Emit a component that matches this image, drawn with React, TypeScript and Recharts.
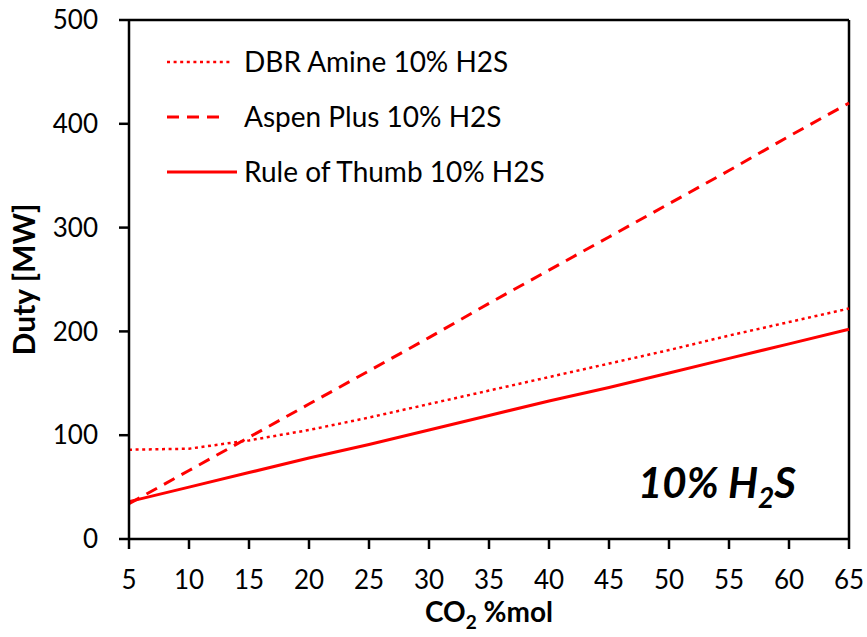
import { LineChart, Line, XAxis, YAxis, ReferenceLine } from 'recharts';

// ── Data ──────────────────────────────────────────────────────────────────────

const co2Pct = [5, 10, 15, 20, 25, 30, 35, 40, 45, 50, 55, 60, 65];
const dbrAmine = [86, 87, 95, 105, 117, 130, 143, 156, 169, 182, 196, 209, 222];
const aspenPlus = [34, 66, 98, 130, 162, 194, 227, 259, 291, 323, 355, 388, 420];
const ruleOfThumb = [36, 50, 64, 78, 91, 105, 119, 133, 146, 160, 174, 188, 202];
const xTicks = [5, 10, 15, 20, 25, 30, 35, 40, 45, 50, 55, 60, 65];
const yTicks = [0, 100, 200, 300, 400, 500];

const chartData = co2Pct.map((x, i) => ({
  x,
  dbr: dbrAmine[i],
  aspen: aspenPlus[i],
  rot: ruleOfThumb[i],
}));

const RED = '#ff0000';
const FONT = 'Lato, "Open Sans", sans-serif';

const legendRows = [
  { label: 'DBR Amine 10% H2S', dash: '3 3.6', len: 66, width: 2.5 },
  { label: 'Aspen Plus 10% H2S', dash: '12 8', len: 55, width: 3 },
  { label: 'Rule of Thumb 10% H2S', dash: undefined, len: 70, width: 3 },
];

// ── Axis labels ───────────────────────────────────────────────────────────────

// eslint-disable-next-line @typescript-eslint/no-explicit-any
function YTitle({ viewBox }: any) {
  const cx = 35;
  const cy = viewBox.y + viewBox.height / 2;
  return (
    <text x={cx} y={cy} transform={`rotate(-90 ${cx} ${cy})`} textAnchor="middle"
      fontFamily={FONT} fontWeight={700} fontSize={30} fill="#000">
      Duty [MW]
    </text>
  );
}

// eslint-disable-next-line @typescript-eslint/no-explicit-any
function XTitle({ viewBox }: any) {
  const cx = viewBox.x + viewBox.width / 2;
  return (
    <text x={cx} y={622} textAnchor="middle" fontFamily={FONT} fontWeight={700} fontSize={28} fill="#000">
      CO<tspan fontSize={19} dy={7}>2</tspan><tspan dy={-7}> %mol</tspan>
    </text>
  );
}

export default function App() {
  return (
    <div style={{ position: 'absolute', left: 0, top: 0, width: 867, height: 637, background: '#fff' }}>
      <LineChart
        width={867}
        height={637}
        data={chartData}
        margin={{ top: 20, right: 18, left: 0, bottom: 0 }}
      >
        <XAxis
          dataKey="x"
          type="number"
          domain={[5, 65]}
          ticks={xTicks}
          interval={0}
          height={98}
          tickSize={10}
          tickMargin={22}
          axisLine={{ stroke: '#000', strokeWidth: 2.5 }}
          tickLine={{ stroke: '#000', strokeWidth: 2.5 }}
          tick={{ fontSize: 26, fill: '#000', fontFamily: FONT }}
          label={<XTitle />}
        />
        <YAxis
          type="number"
          domain={[0, 500]}
          ticks={yTicks}
          interval={0}
          width={129}
          tickSize={10}
          tickMargin={21}
          axisLine={{ stroke: '#000', strokeWidth: 2.5 }}
          tickLine={{ stroke: '#000', strokeWidth: 2.5 }}
          tick={{ fontSize: 26, fill: '#000', fontFamily: FONT }}
          label={<YTitle />}
        />
        <ReferenceLine y={500} stroke="#000" strokeWidth={2.5} />
        <ReferenceLine x={65} stroke="#000" strokeWidth={2.5} />
        <Line dataKey="dbr" stroke={RED} strokeWidth={2.5} strokeDasharray="3 3.6"
          dot={false} isAnimationActive={false} />
        <Line dataKey="aspen" stroke={RED} strokeWidth={3} strokeDasharray="12 8"
          dot={false} isAnimationActive={false} />
        <Line dataKey="rot" stroke={RED} strokeWidth={3}
          dot={false} isAnimationActive={false} />
      </LineChart>

      {/* Legend + annotation overlay */}
      <svg width={867} height={637} style={{ position: 'absolute', left: 0, top: 0, pointerEvents: 'none' }}>
        {legendRows.map((r, i) => {
          const y = 62 + i * 55;
          return (
            <g key={r.label}>
              <line x1={167} y1={y} x2={167 + r.len} y2={y} stroke={RED} strokeWidth={r.width}
                strokeDasharray={r.dash} />
              <text x={244} y={y + 9.5} fontFamily={FONT} fontSize={28} fill="#000">{r.label}</text>
            </g>
          );
        })}
        <text x={638} y={498} fontFamily={FONT} fontSize={42} fontWeight={700} fontStyle="italic" fill="#000">
          10% H<tspan fontSize={28} dy={10}>2</tspan><tspan dy={-10}>S</tspan>
        </text>
      </svg>
    </div>
  );
}
